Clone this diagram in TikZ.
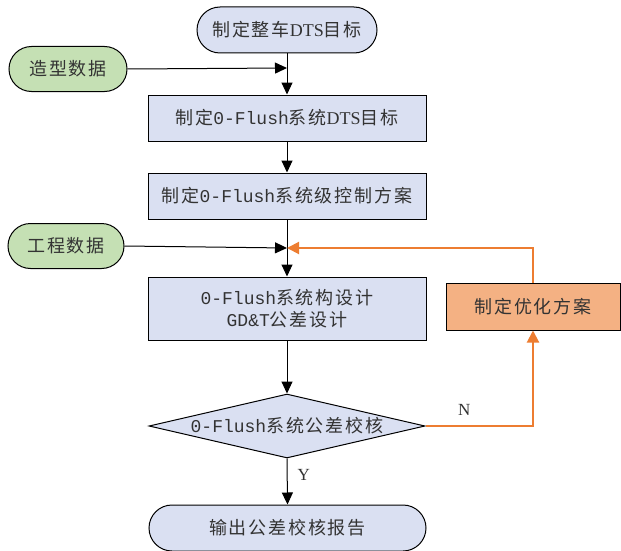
\documentclass[tikz,border=0pt]{standalone}
\usepackage{fontspec}
\setmainfont[LetterSpace=10]{Noto Sans CJK SC}
\newfontfamily\latf{Liberation Serif}
\newfontfamily\monof{Liberation Mono}
\usetikzlibrary{shapes.geometric,shapes.misc,arrows.meta}
\definecolor{bfill}{HTML}{DAE0F2}
\definecolor{gfill}{HTML}{C5E0B4}
\definecolor{ofill}{HTML}{F4B183}
\definecolor{oline}{HTML}{ED7D31}
\definecolor{txt}{HTML}{333333}
\begin{document}
\begin{tikzpicture}[x=1pt,y=-1pt,
  every node/.style={text=txt,font=\fontsize{18}{22}\selectfont,inner sep=0pt},
  term/.style={rounded rectangle,draw=black,line width=1pt,fill=bfill},
  datum/.style={rounded rectangle,draw=black,line width=1pt,fill=gfill,minimum width=118pt,minimum height=45pt},
  proc/.style={rectangle,draw=black,line width=1pt,fill=bfill,minimum width=278pt,minimum height=46pt,align=center},
  arr/.style={draw=black,line width=1pt,-{Triangle[length=12pt,width=11pt]}},
  oarr/.style={draw=oline,line width=2pt,-{Triangle[length=12pt,width=12pt]}}]
\useasboundingbox (0,0) rectangle (621,551);
\node[term,minimum width=180pt,minimum height=46pt] (top) at (287,30) {制定整车{\latf DTS}目标};
\node[datum] (zx) at (68,69) {造型数据};
\node[proc] (b1) at (287,118) {制定{\monof 0-Flush}系统{\latf DTS}目标};
\node[proc] (b2) at (287,196) {制定{\monof 0-Flush}系统级控制方案};
\node[datum,minimum width=116pt] (gc) at (66,246) {工程数据};
\node[proc,minimum height=63pt] (b3) at (287,308.5) {{\monof 0-Flush}系统构设计\\{\monof GD\&T}公差设计};
\node[rectangle,draw=black,line width=1pt,fill=ofill,minimum width=174pt,minimum height=47pt] (opt) at (533,306.5) {制定优化方案};
\node[diamond,draw=black,line width=1pt,fill=bfill,minimum width=276pt,minimum height=64pt,aspect=4.3] (dia) at (287,426) {};
\node (diat) at (dia.center) {{\monof 0-Flush}系统公差校核};
\node[term,minimum width=277pt,minimum height=46pt] (bot) at (287.5,528) {输出公差校核报告};
\coordinate (j1) at (287,68);
\coordinate (j2) at (287,248);
\draw[arr] (top.south) -- (b1.north);
\draw[arr] (zx.east) -- (j1);
\draw[arr] (b1.south) -- (b2.north);
\draw[arr] (b2.south) -- (b3.north);
\draw[arr] (gc.east) -- (j2);
\draw[arr] (b3.south) -- (dia.north);
\draw[arr] (dia.south) -- node[right=10pt,pos=0.35,font=\latf\fontsize{17}{20}\selectfont] (ylab) {Y} (bot.north);
\draw[oarr] (dia.east) -| node[pos=0.18,above=10pt,font=\latf\fontsize{17}{20}\selectfont] (nlab) {N} (opt.south);
\draw[oarr] (opt.north) |- (j2);
\end{tikzpicture}
\end{document}
